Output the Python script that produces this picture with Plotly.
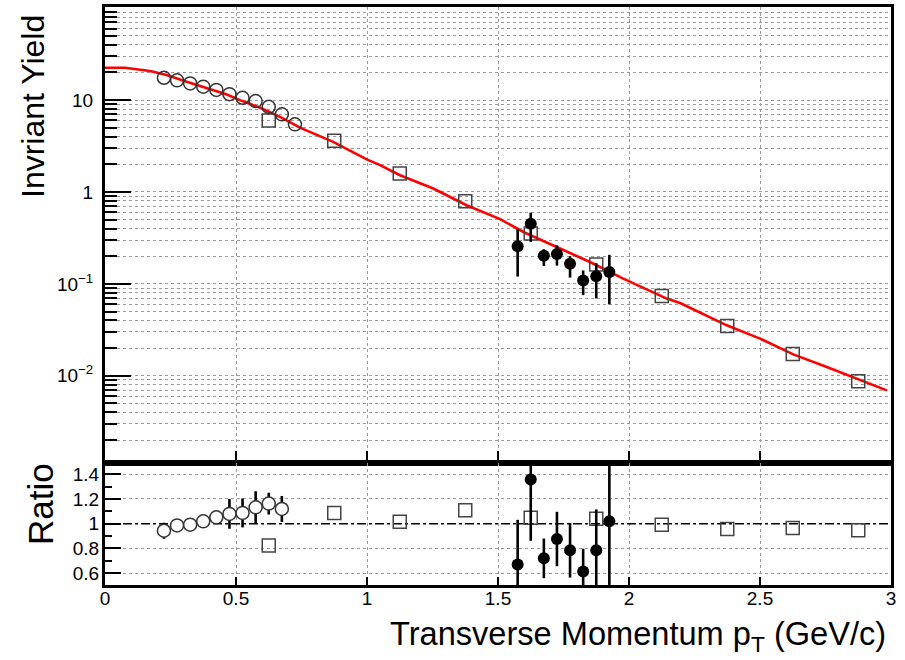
import plotly.graph_objects as go

# ---------------- data ----------------
# open circles (top panel)
oc_x = [0.225, 0.275, 0.325, 0.375, 0.425, 0.475, 0.525, 0.575, 0.625, 0.675, 0.725]
oc_y = [17.5, 16.4, 15.2, 14.0, 12.9, 11.6, 10.6, 9.75, 8.45, 7.0, 5.45]

# open squares (top panel)
sq_x = [0.625, 0.875, 1.125, 1.375, 1.625, 1.875, 2.125, 2.375, 2.625, 2.875]
sq_y = [6.0, 3.6, 1.59, 0.794, 0.353, 0.163, 0.074, 0.0348, 0.0173, 0.00873]

# filled circles (top panel) with asymmetric errors (upper / lower edge values)
fc_x = [1.575, 1.625, 1.675, 1.725, 1.775, 1.825, 1.875, 1.925]
fc_y = [0.257, 0.450, 0.202, 0.212, 0.166, 0.109, 0.121, 0.135]
fc_hi = [0.395, 0.595, 0.238, 0.263, 0.200, 0.140, 0.168, 0.207]
fc_lo = [0.120, 0.286, 0.157, 0.158, 0.117, 0.0755, 0.0694, 0.0599]

# fit curve
fit_x = [0.0, 0.076, 0.172, 0.235, 0.312, 0.388, 0.465, 0.515, 0.592, 0.668, 0.744,
         0.871, 0.999, 1.05, 1.126, 1.253, 1.380, 1.508, 1.597, 1.724, 1.851, 1.978,
         2.144, 2.195, 2.373, 2.5, 2.627, 2.755, 2.882, 2.984]
fit_y = [22.5, 22.5, 20.7, 18.7, 15.8, 13.4, 11.5, 10.0, 8.24, 6.58, 5.01,
         3.51, 2.26, 1.96, 1.52, 1.09, 0.718, 0.506, 0.367, 0.252, 0.173, 0.114,
         0.0692, 0.0620, 0.0354, 0.0254, 0.0171, 0.01245, 0.00891, 0.00693]

# ratio panel
roc_x = [0.225, 0.275, 0.325, 0.375, 0.425, 0.475, 0.525, 0.575, 0.625, 0.675]
roc_y = [0.943, 0.986, 0.992, 1.019, 1.051, 1.079, 1.087, 1.132, 1.162, 1.119]
roc_e = [0.065, 0.04, 0.04, 0.04, 0.04, 0.12, 0.117, 0.13, 0.088, 0.105]

rsq_x = [0.625, 0.875, 1.125, 1.375, 1.625, 1.875, 2.125, 2.375, 2.625, 2.875]
rsq_y = [0.824, 1.087, 1.015, 1.108, 1.048, 1.04, 0.992, 0.957, 0.965, 0.946]

rfc_x = [1.575, 1.625, 1.675, 1.725, 1.775, 1.825, 1.875, 1.925]
rfc_y = [0.671, 1.356, 0.72, 0.876, 0.785, 0.614, 0.785, 1.019]
rfc_e = [0.36, 0.494, 0.16, 0.22, 0.22, 0.184, 0.33, 0.65]

ref_x = [0.0, 3.0]
ref_y = [1.0, 1.0]

x_ticks = [0, 0.5, 1, 1.5, 2, 2.5, 3]
x_ticktext = ["0", "0.5", "1", "1.5", "2", "2.5", "3"]
y_ticks = [0.01, 0.1, 1, 10]
y_ticktext = ["10<sup>\u22122</sup>", "10<sup>\u22121</sup>", "1", "10"]
y_minor = [m * 10 ** e for e in (-3, -2, -1, 0, 1) for m in range(2, 10)]
r_ticks = [0.6, 0.8, 1.0, 1.2, 1.4]
r_ticktext = ["0.6", "0.8", "1", "1.2", "1.4"]
r_minor = [0.7, 0.9, 1.1, 1.3]

FONT = "Liberation Sans, Arial, Helvetica, sans-serif"

fig = go.Figure()

# ---- top panel ----
fig.add_trace(go.Scatter(x=fit_x, y=fit_y, mode="lines",
                         line=dict(color="#ff0000", width=2.6),
                         xaxis="x", yaxis="y", showlegend=False))
fig.add_trace(go.Scatter(x=sq_x, y=sq_y, mode="markers",
                         marker=dict(symbol="square", size=13, color="rgba(255,255,255,0)",
                                     line=dict(color="#444444", width=1.5)),
                         xaxis="x", yaxis="y", showlegend=False))
fig.add_trace(go.Scatter(x=oc_x, y=oc_y, mode="markers",
                         marker=dict(symbol="circle", size=13, color="rgba(255,255,255,0)",
                                     line=dict(color="#333333", width=1.5)),
                         xaxis="x", yaxis="y", showlegend=False))
fig.add_trace(go.Scatter(x=fc_x, y=fc_y, mode="markers",
                         marker=dict(symbol="circle", size=12, color="black"),
                         error_y=dict(type="data", symmetric=False,
                                      array=[h - v for h, v in zip(fc_hi, fc_y)],
                                      arrayminus=[v - l for l, v in zip(fc_lo, fc_y)],
                                      color="black", thickness=2.6, width=0),
                         xaxis="x", yaxis="y", showlegend=False))

# ---- ratio panel ----
fig.add_trace(go.Scatter(x=ref_x, y=ref_y, mode="lines",
                         line=dict(color="black", width=1.6, dash="dashdot"),
                         xaxis="x2", yaxis="y2", showlegend=False))
fig.add_trace(go.Scatter(x=rsq_x, y=rsq_y, mode="markers",
                         marker=dict(symbol="square", size=13, color="rgba(255,255,255,0)",
                                     line=dict(color="#444444", width=1.5)),
                         xaxis="x2", yaxis="y2", showlegend=False))
fig.add_trace(go.Scatter(x=roc_x, y=roc_y, mode="markers",
                         marker=dict(symbol="circle", size=13, color="white",
                                     line=dict(color="#333333", width=1.5)),
                         error_y=dict(type="data", array=roc_e, color="black",
                                      thickness=2.6, width=0),
                         xaxis="x2", yaxis="y2", showlegend=False))
fig.add_trace(go.Scatter(x=rfc_x, y=rfc_y, mode="markers",
                         marker=dict(symbol="circle", size=12, color="black"),
                         error_y=dict(type="data", array=rfc_e, color="black",
                                      thickness=2.6, width=0),
                         xaxis="x2", yaxis="y2", showlegend=False))

grid = dict(showgrid=True, gridcolor="#9a9a9a", griddash="dot", gridwidth=1)
frame = dict(showline=True, mirror=True, linecolor="black", linewidth=3, zeroline=False,
             automargin=False)
split = 0.2111

fig.update_layout(
    template="none",
    width=905, height=660,
    margin=dict(l=105, r=14, t=7, b=75, pad=0),
    paper_bgcolor="white", plot_bgcolor="white",
    font=dict(family=FONT, color="black", size=19),
    xaxis=dict(domain=[0, 1], range=[0, 3], anchor="y", tickvals=x_ticks,
               showticklabels=False, ticks="inside", ticklen=12, tickwidth=1.5,
               tickcolor="black", **grid, **frame),
    yaxis=dict(domain=[split, 1], type="log", range=[-2.949, 2.013], anchor="x",
               tickvals=y_ticks, ticktext=y_ticktext, ticks="inside", ticklen=26,
               tickwidth=2, tickcolor="black", tickfont=dict(size=19),
               ticklabelstandoff=5,
               minor=dict(tickvals=y_minor, ticks="inside", ticklen=12, tickwidth=2,
                          tickcolor="black", showgrid=True, gridcolor="#9a9a9a",
                          griddash="dot", gridwidth=1),
               **grid, **frame),
    xaxis2=dict(domain=[0, 1], range=[0, 3], anchor="y2", tickvals=x_ticks,
                ticktext=x_ticktext, ticks="inside", ticklen=8, tickwidth=1.5,
                tickcolor="black", tickfont=dict(size=19), ticklabelstandoff=-6,
                **grid, **frame),
    yaxis2=dict(domain=[0, split], range=[0.505, 1.49], anchor="x2",
                tickvals=r_ticks, ticktext=r_ticktext, ticks="inside", ticklen=16,
                tickwidth=2, tickcolor="black", tickfont=dict(size=19),
                ticklabelstandoff=-1,
                minor=dict(tickvals=r_minor, ticks="inside", ticklen=7, tickwidth=2,
                           tickcolor="black", showgrid=False),
                **grid, **frame),
    annotations=[
        dict(text="Invriant Yield", xref="paper", yref="paper", x=-0.0916, y=0.827,
             xanchor="center", yanchor="middle", textangle=-90, showarrow=False,
             font=dict(size=32, family=FONT, color="black")),
        dict(text="Ratio", xref="paper", yref="paper", x=-0.0827, y=0.140,
             xanchor="center", yanchor="middle", textangle=-90, showarrow=False,
             font=dict(size=35, family=FONT, color="black")),
        dict(text="Transverse Momentum p<sub>T</sub> (GeV/c)", xref="paper", yref="paper",
             x=0.9962, y=-0.088, xanchor="right", yanchor="middle", showarrow=False,
             font=dict(size=32.6, family=FONT, color="black")),
    ],
)

fig.write_html("out.html", config={"displayModeBar": False},
               post_script="document.body.style.margin='0px';"
                           "document.body.style.padding='0px';")
